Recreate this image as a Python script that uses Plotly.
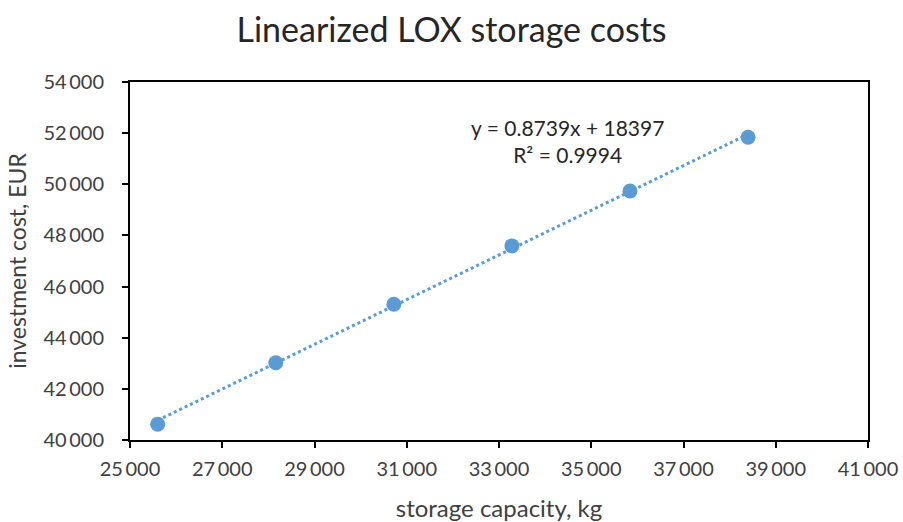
import plotly.graph_objects as go

# Data
capacity_kg = [25600, 28160, 30720, 33280, 35840, 38400]
cost_eur = [40620, 43020, 45310, 47590, 49740, 51840]
trend_slope = 0.8739
trend_intercept = 18397
r_squared = 0.9994
x_ticks = [25000, 27000, 29000, 31000, 33000, 35000, 37000, 39000, 41000]
y_ticks = [40000, 42000, 44000, 46000, 48000, 50000, 52000, 54000]

def fmt(v):
    return f"{v:,}".replace(",", "\u2009")

FONT = "Lato"
BLUE = "#5B9BD5"
TXT = "#404040"

trend_x = [min(capacity_kg), max(capacity_kg)]
trend_y = [trend_slope * x + trend_intercept for x in trend_x]

fig = go.Figure()
fig.add_trace(go.Scatter(x=trend_x, y=trend_y, mode="lines",
                         line=dict(color=BLUE, width=3, dash="dot"),
                         hoverinfo="skip", showlegend=False))
fig.add_trace(go.Scatter(x=capacity_kg, y=cost_eur, mode="markers",
                         marker=dict(color=BLUE, size=15),
                         showlegend=False))

fig.update_layout(
    width=903, height=522,
    margin=dict(l=130, r=35, t=82, b=82),
    paper_bgcolor="white", plot_bgcolor="white",
    font=dict(family=FONT, color=TXT),
    title=dict(text="Linearized LOX storage costs", x=0.5, xanchor="center",
               y=1 - 30 / 522, yref="container", yanchor="middle",
               font=dict(size=34, family=FONT, color="#262626")),
    xaxis=dict(range=[25000, 41000], tickvals=x_ticks,
               ticktext=[fmt(v) for v in x_ticks],
               showgrid=False, zeroline=False, automargin=False,
               showline=True, linecolor="black", linewidth=2, mirror=True,
               ticks="outside", ticklen=6, tickwidth=2, tickcolor="black",
               tickfont=dict(size=20, color=TXT), ticklabelstandoff=4,
               title=dict(text="storage capacity, kg", font=dict(size=24, color=TXT),
                          standoff=22)),
    yaxis=dict(range=[40000, 54000], tickvals=y_ticks,
               ticktext=[fmt(v) for v in y_ticks],
               showgrid=False, zeroline=False, automargin=False,
               showline=True, linecolor="black", linewidth=2, mirror=True,
               ticks="outside", ticklen=6, tickwidth=2, tickcolor="black",
               tickfont=dict(size=20, color=TXT), ticklabelstandoff=14,
               title=dict(text="investment cost, EUR", font=dict(size=23, color=TXT),
                          standoff=10)),
    annotations=[
        dict(text=f"y = {trend_slope}x + {trend_intercept}<br>R² = {r_squared}",
             x=(567 - 130) / (903 - 130 - 35),
             y=1 - (141 - 82) / (522 - 82 - 82),
             xref="paper", yref="paper", showarrow=False,
             xanchor="center", yanchor="middle",
             font=dict(size=21, color="#262626"))
    ],
)

fig.write_html("out.html")
